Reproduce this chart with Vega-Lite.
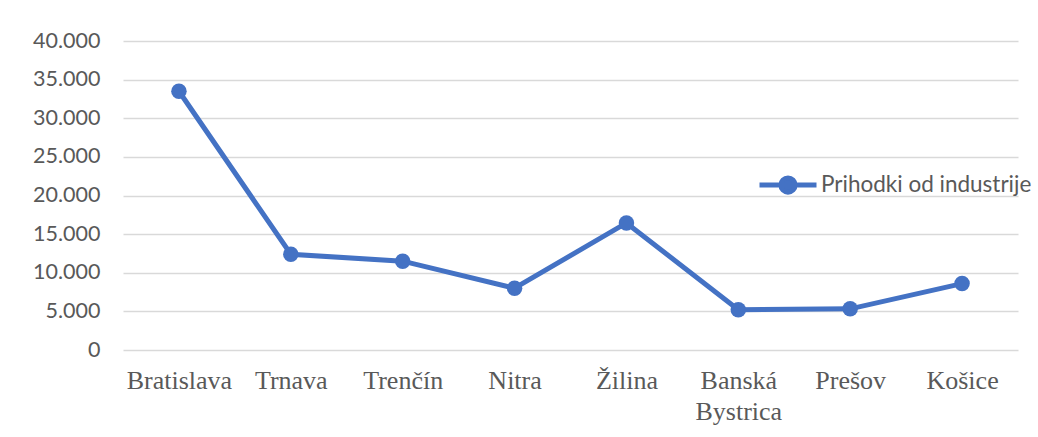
{
  "$schema": "https://vega.github.io/schema/vega-lite/v6.json",
  "width": 895,
  "height": 309,
  "autosize": {"type": "none"},
  "padding": {"left": 123, "top": 41, "right": 20, "bottom": 87},
  "background": "white",
  "config": {"view": {"stroke": null}},
  "data": {
    "values": [
      {"region": "Bratislava", "value": 33500, "series": "Prihodki od industrije"},
      {"region": "Trnava", "value": 12400, "series": "Prihodki od industrije"},
      {"region": "Trenčín", "value": 11500, "series": "Prihodki od industrije"},
      {"region": "Nitra", "value": 8000, "series": "Prihodki od industrije"},
      {"region": "Žilina", "value": 16450, "series": "Prihodki od industrije"},
      {"region": "Banská Bystrica", "value": 5200, "series": "Prihodki od industrije"},
      {"region": "Prešov", "value": 5330, "series": "Prihodki od industrije"},
      {"region": "Košice", "value": 8600, "series": "Prihodki od industrije"}
    ]
  },
  "mark": {"type": "line", "strokeWidth": 5, "point": {"filled": true, "size": 240, "opacity": 1}},
  "encoding": {
    "x": {
      "field": "region",
      "type": "nominal",
      "sort": null,
      "title": null,
      "axis": {
        "labelAngle": 0,
        "domain": false,
        "ticks": false,
        "grid": false,
        "labelFont": "Liberation Serif",
        "labelFontSize": 26,
        "labelColor": "#595959",
        "labelPadding": 17,
        "labelLineHeight": 31,
        "labelExpr": "split(datum.label, ' ')"
      }
    },
    "y": {
      "field": "value",
      "type": "quantitative",
      "title": null,
      "scale": {"domain": [0, 40000]},
      "axis": {
        "values": [0, 5000, 10000, 15000, 20000, 25000, 30000, 35000, 40000],
        "domain": false,
        "ticks": false,
        "gridColor": "#D9D9D9",
        "gridWidth": 1.5,
        "labelFont": "Lato",
        "labelFontSize": 21.5,
        "labelColor": "#595959",
        "labelPadding": 23,
        "labelExpr": "replace(format(datum.value, ','), ',', '.')"
      }
    },
    "color": {
      "field": "series",
      "type": "nominal",
      "scale": {"range": ["#4472C4"]},
      "legend": {
        "title": null,
        "orient": "none",
        "legendX": 634,
        "legendY": 113,
        "padding": 0,
        "symbolType": "M-1,0L1,0M-0.25,0A0.25,0.25,0,1,1,0.25,0A0.25,0.25,0,1,1,-0.25,0Z",
        "symbolSize": 3249,
        "symbolStrokeWidth": 5,
        "symbolFillColor": "#4472C4",
        "symbolStrokeColor": "#4472C4",
        "labelFont": "Lato",
        "labelFontSize": 22.5,
        "labelLimit": 0,
        "labelColor": "#595959",
        "labelOffset": 2
      }
    }
  }
}
